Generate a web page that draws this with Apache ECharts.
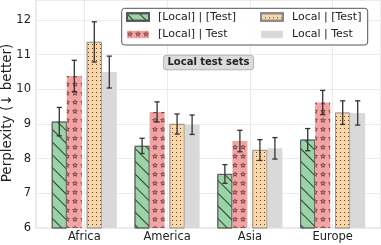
<!DOCTYPE html>
<html>
<head>
<meta charset="utf-8">
<script src="https://cdn.jsdelivr.net/npm/echarts@6/dist/echarts.min.js"></script>
<style>
html,body{margin:0;padding:0;background:#fff;}
#c{width:381px;height:245px;}
</style>
</head>
<body>
<div id="c"></div>
<script>
const categories = ['Africa', 'America', 'Asia', 'Europe'];
const seriesNames = ['[Local] | [Test]', '[Local] | Test', 'Local | [Test]', 'Local | Test'];
const valsBothBracket = [9.07, 8.37, 7.56, 8.55];
const errBothBracket  = [0.41, 0.22, 0.27, 0.32];
const valsLocalBracket = [10.39, 9.35, 8.51, 9.62];
const errLocalBracket  = [0.45, 0.29, 0.31, 0.35];
const valsTestBracket = [11.37, 9.00, 8.25, 9.33];
const errTestBracket  = [0.58, 0.29, 0.30, 0.34];
const valsNoBracket = [10.50, 8.98, 8.30, 9.32];
const errNoBracket  = [0.46, 0.28, 0.31, 0.35];
const yTicks = [6, 7, 8, 9, 10, 11, 12];
const badgeText = 'Local test sets';
const yTitle = 'Perplexity (\u2193 better)';

const allVals = [valsBothBracket, valsLocalBracket, valsTestBracket, valsNoBracket];
const allErrs = [errBothBracket, errLocalBracket, errTestBracket, errNoBracket];

const FONT = 'DejaVu Sans';
const BAR_W = 15, GAP = 5;
const widths = [BAR_W, BAR_W, GAP, BAR_W, BAR_W];
const total = widths.reduce((a, b) => a + b, 0);
const centers = [];
let acc = -total / 2;
widths.forEach(w => { centers.push(acc + w / 2); acc += w; });
const OFFSETS = [centers[0], centers[1], centers[3], centers[4]];

const YMIN = 6, YMAX = 12.58;

function starPath() {
  const outer = [], inner = [];
  for (let k = 0; k < 10; k++) {
    const a = -Math.PI / 2 + k * Math.PI / 5;
    const r = k % 2 ? 0.42 : 1;
    outer.push([50 + 50 * r * Math.cos(a), 50 + 50 * r * Math.sin(a)]);
    inner.push([50 + 24 * r * Math.cos(a), 50 + 24 * r * Math.sin(a)]);
  }
  inner.reverse();
  const seg = pts => 'M' + pts.map(p => p[0].toFixed(2) + ' ' + p[1].toFixed(2)).join(' L') + ' Z';
  return 'path://' + seg(outer) + ' ' + seg(inner);
}

const colors = ['#99d4a7', '#f4a3a3', '#fdd6a8', '#d9d9d9'];
const decals = [
  { symbol: 'rect', symbolSize: 1, dashArrayX: [1, 0], dashArrayY: [1, 7.5], rotation: Math.PI / 4, color: '#3a3a3a' },
  { symbol: starPath(), symbolSize: 1, dashArrayX: [5.5, 2], dashArrayY: [5.5, 3], color: '#4a2424' },
  { symbol: 'rect', symbolSize: 1, dashArrayX: [1, 3], dashArrayY: [1, 3], color: '#4a4a4a' },
  null
];
const borders = [
  { borderColor: '#555', borderWidth: 0.8 },
  { borderWidth: 0 },
  { borderColor: '#888', borderWidth: 0.6 },
  { borderWidth: 0 }
];

const barSeries = [];
for (let k = 0; k < 4; k++) {
  const st = Object.assign({ color: colors[k] }, borders[k]);
  if (decals[k]) st.decal = decals[k];
  barSeries.push({
    name: seriesNames[k], type: 'bar', xAxisIndex: 1, yAxisIndex: 1,
    barWidth: BAR_W, barGap: '0%', data: allVals[k],
    itemStyle: st, clip: true, emphasis: { disabled: true }, z: 3
  });
  if (k === 1) {
    barSeries.push({
      name: 'spacer', type: 'bar', xAxisIndex: 1, yAxisIndex: 1,
      barWidth: GAP, barGap: '0%', data: categories.map(() => '-'),
      itemStyle: { opacity: 0 }, silent: true
    });
  }
}

const errData = [];
for (let k = 0; k < 4; k++) {
  for (let i = 0; i < categories.length; i++) {
    errData.push([i, allVals[k][i], allErrs[k][i], k]);
  }
}

const errSeries = {
  type: 'custom', xAxisIndex: 1, yAxisIndex: 1, z: 5, silent: true,
  data: errData,
  renderItem: function (params, api) {
    const ci = api.value(0), v = api.value(1), e = api.value(2), k = api.value(3);
    const top = api.coord([ci, v + e]);
    const bot = api.coord([ci, v - e]);
    const x = top[0] + OFFSETS[k];
    const st = { stroke: '#333', lineWidth: 1.3 };
    const cap = 2.6;
    return {
      type: 'group', children: [
        { type: 'line', shape: { x1: x, y1: top[1], x2: x, y2: bot[1] }, style: st },
        { type: 'line', shape: { x1: x - cap, y1: top[1], x2: x + cap, y2: top[1] }, style: st },
        { type: 'line', shape: { x1: x - cap, y1: bot[1], x2: x + cap, y2: bot[1] }, style: st }
      ]
    };
  }
};

const chart = echarts.init(document.getElementById('c'), null, { renderer: 'canvas' });
const legendText = { fontFamily: FONT, fontSize: 11, color: '#222', lineHeight: 14, padding: [0, 0, 0, 4] };
chart.setOption({
  animation: false,
  grid: [
    { left: 36, right: 0, top: 0, bottom: 17, show: true, borderColor: '#d6d6d6', borderWidth: 1, backgroundColor: 'transparent' },
    { left: 42.9, width: 331.2, top: 0, bottom: 17 },
    { left: 84.3, right: 48.3, top: 0, bottom: 17 }
  ],
  xAxis: [
    { type: 'category', gridIndex: 0, data: categories, show: false },
    { type: 'category', gridIndex: 1, data: categories,
      axisLine: { show: false }, axisTick: { show: false }, splitLine: { show: false },
      axisLabel: { fontFamily: FONT, fontSize: 11.5, color: '#222', margin: 3 } },
    { type: 'category', gridIndex: 2, data: categories, boundaryGap: false,
      axisLine: { show: false }, axisTick: { show: false }, axisLabel: { show: false },
      splitLine: { show: true, interval: 0, lineStyle: { color: '#ebebeb', width: 1 } } }
  ],
  yAxis: [
    { type: 'value', gridIndex: 0, min: YMIN, max: YMAX, interval: 1,
      axisLine: { show: false }, axisTick: { show: false },
      axisLabel: { fontFamily: FONT, fontSize: 11.5, color: '#222', margin: 5, showMaxLabel: false,
        formatter: v => (yTicks.indexOf(v) >= 0 ? String(v) : '') },
      splitLine: { lineStyle: { color: '#ebebeb', width: 1 } } },
    { type: 'value', gridIndex: 1, min: YMIN, max: YMAX, show: false },
    { type: 'value', gridIndex: 2, min: YMIN, max: YMAX, show: false }
  ],
  legend: [
    { data: [seriesNames[0], seriesNames[1]], orient: 'vertical', left: 126, top: 10, padding: 0, icon: 'rect',
      itemWidth: 22, itemHeight: 7.5, itemGap: 3.5, textStyle: legendText, z: 10, selectedMode: false },
    { data: [seriesNames[2], seriesNames[3]], orient: 'vertical', left: 260, top: 10, padding: 0, icon: 'rect',
      itemWidth: 22, itemHeight: 7.5, itemGap: 3.5, textStyle: legendText, z: 10, selectedMode: false }
  ],
  graphic: [
    { type: 'rect', z: 5, shape: { x: 121.7, y: 8.3, width: 246, height: 36.7, r: 3 },
      style: { fill: 'rgba(255,255,255,0.9)', stroke: '#555', lineWidth: 1 } },
    { type: 'text', z: 10, x: 208.5, y: 62.5,
      style: { text: badgeText, fontFamily: FONT, fontWeight: 'bold', fontSize: 10, fill: '#222',
        align: 'center', verticalAlign: 'middle', backgroundColor: '#dcdcdc', borderColor: '#b5b5b5',
        borderWidth: 1, borderRadius: 3, padding: [2, 3.5, 1.5, 3.5] } },
    { type: 'text', z: 10, x: 7.5, y: 113, rotation: Math.PI / 2,
      style: { text: yTitle, fontFamily: FONT, fontSize: 13.5, fill: '#222',
        align: 'center', verticalAlign: 'middle' } }
  ],
  series: barSeries.concat([errSeries])
});
</script>
</body>
</html>
